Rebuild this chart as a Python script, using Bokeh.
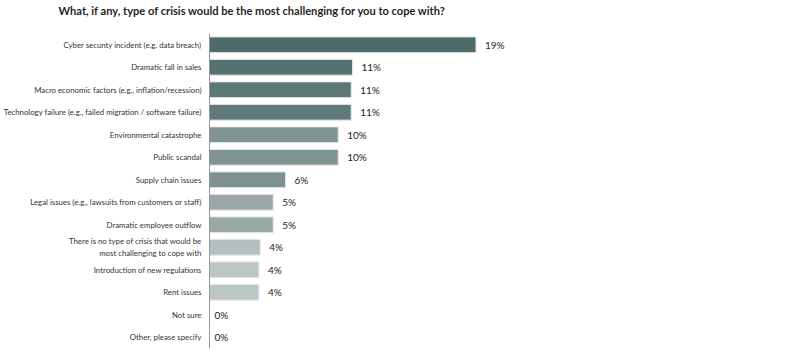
from bokeh.plotting import figure
from bokeh.models import FactorRange, Range1d, ColumnDataSource
from bokeh.embed import file_html
from bokeh.resources import INLINE
from bokeh.core.properties import value

title_text = "What, if any, type of crisis would be the most challenging for you to cope with?"

categories = [
    "Cyber secunty incident (e.g. data breach)",
    "Dramatic fall in sales",
    "Macro economic factors (e.g., inflation/recession)",
    "Technology failure (e.g., failed migration / software failure)",
    "Environmental catastrophe",
    "Public scandal",
    "Supply chain issues",
    "Legal issues (e.g., lawsuits from customers or staff)",
    "Dramatic employee outflow",
    "There is no type of crisis that would be\nmost challenging to cope with",
    "Introduction of new regulations",
    "Rent issues",
    "Not sure",
    "Other, please specify",
]
values = [20.5, 11.0, 10.9, 10.9, 9.9, 9.9, 5.85, 4.9, 4.9, 3.9, 3.8, 3.8, 0, 0]
value_labels = ["19%", "11%", "11%", "11%", "10%", "10%", "6%", "5%", "5%", "4%", "4%", "4%", "0%", "0%"]
colors = ["#4e6b6a", "#557271", "#5c7776", "#5f7a79", "#7f9493", "#7f9493", "#7d9190",
          "#9aa9a8", "#9aa9a8", "#b4c0bf", "#bcc6c5", "#bcc6c5", "#bcc6c5", "#bcc6c5"]

label_offsets = [5 if v == 0 else 9 for v in values]

src = ColumnDataSource(dict(cat=categories, val=values, lab=value_labels, col=colors, off=label_offsets))

W, H = 803, 355
left, top, bottom = 209, 33, 7
scale = 13.0

p = figure(width=W, height=H, output_backend="svg", toolbar_location=None,
           y_range=FactorRange(factors=list(reversed(categories)), range_padding=0),
           x_range=Range1d(0, (W - left) / scale),
           min_border_left=left, min_border_right=0, min_border_top=top, min_border_bottom=bottom)

p.hbar(y="cat", right="val", left=0, height=0.7, fill_color="col", line_color="#e2e8e7",
       line_width=1, source=src)
p.text(x="val", y="cat", text="lab", x_offset="off", text_baseline="middle", text_align="left",
       text_font=value("Lato"), text_font_size="10px", text_color="#222222", source=src)

p.xaxis.visible = False
p.xgrid.visible = False
p.ygrid.visible = False
p.outline_line_color = None

ax = p.yaxis[0]
ax.axis_line_color = "#9a9a9a"
ax.axis_line_width = 1
ax.major_tick_line_color = None
ax.minor_tick_line_color = None
ax.major_label_standoff = 2
ax.major_label_text_font = "Lato"
ax.major_label_text_font_size = "7.8px"
ax.major_label_text_color = "#333333"

# trailing blank line lifts the title away from the plot area
p.title.text = title_text + "\n "
p.title.text_font = "Lato"
p.title.text_font_size = "11.1px"
p.title.text_font_style = "bold"
p.title.text_color = "#1f1f1f"
p.title.text_line_height = 1.2
p.title.align = "left"
p.title.offset = -151
p.title.standoff = 1

p.background_fill_color = "white"
p.border_fill_color = "white"

open("out.html", "w").write(file_html(p, INLINE))
